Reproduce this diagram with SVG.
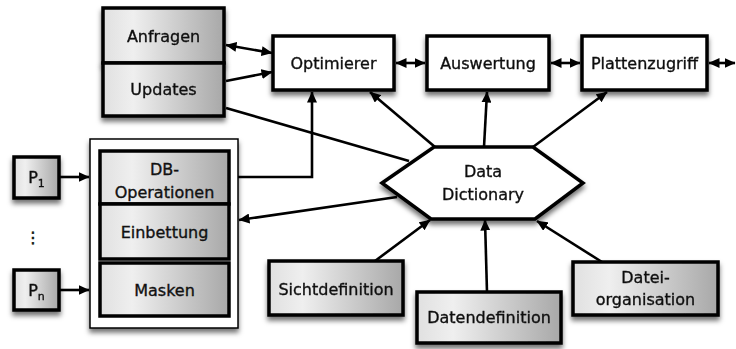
<svg xmlns="http://www.w3.org/2000/svg" width="736" height="349" viewBox="0 0 736 349">
<defs>
<linearGradient id="g" x1="0" y1="0" x2="1" y2="0">
<stop offset="0" stop-color="#e0e0e0"/>
<stop offset="0.25" stop-color="#efefef"/>
<stop offset="1" stop-color="#a8a8a8"/>
</linearGradient>
<filter id="sh" x="-20%" y="-20%" width="140%" height="150%">
<feDropShadow dx="0" dy="4" stdDeviation="2.5" flood-color="#000" flood-opacity="0.55"/>
</filter>
<marker id="ah" viewBox="0 0 11 10" markerWidth="11" markerHeight="10" refX="10.5" refY="5" orient="auto-start-reverse" markerUnits="userSpaceOnUse">
<path d="M0,0 L11,5 L0,10 z" fill="#000"/>
</marker>
</defs>
<style>
.box{fill:url(#g);stroke:#000;stroke-width:3.5}
.wbox{fill:#fff;stroke:#000;stroke-width:3.5}
.panel{fill:#fff;stroke:#000;stroke-width:1.5}
text{font-family:"DejaVu Sans","Liberation Sans",sans-serif;font-size:16px;fill:#111;stroke:#111;stroke-width:0.35;text-anchor:middle}
.c{stroke:#000;stroke-width:2.6;fill:none}
</style>

<g id="connectors">
<line class="c" x1="226" y1="45" x2="272" y2="53" marker-start="url(#ah)" marker-end="url(#ah)"/>
<line class="c" x1="226" y1="81" x2="272" y2="72" marker-end="url(#ah)"/>
<line class="c" x1="226" y1="108" x2="409" y2="161"/>
<polyline class="c" points="238,177 312,177 312,92" marker-end="url(#ah)"/>
<line class="c" x1="397" y1="197" x2="239" y2="220" marker-end="url(#ah)"/>
<line class="c" x1="435" y1="147" x2="370" y2="92" marker-end="url(#ah)"/>
<line class="c" x1="484" y1="147" x2="487" y2="92" marker-end="url(#ah)"/>
<line class="c" x1="533" y1="147" x2="607" y2="92" marker-end="url(#ah)"/>
<line class="c" x1="396" y1="63" x2="425" y2="63" marker-start="url(#ah)" marker-end="url(#ah)"/>
<line class="c" x1="551" y1="63" x2="580" y2="63" marker-start="url(#ah)" marker-end="url(#ah)"/>
<line class="c" x1="709" y1="63" x2="735" y2="63" marker-start="url(#ah)" marker-end="url(#ah)"/>
<line class="c" x1="375" y1="261" x2="430" y2="220" marker-end="url(#ah)"/>
<line class="c" x1="487" y1="292" x2="485" y2="220" marker-end="url(#ah)"/>
<line class="c" x1="602" y1="262" x2="537" y2="221" marker-end="url(#ah)"/>
<line class="c" x1="60" y1="177" x2="89" y2="177" marker-end="url(#ah)"/>
<line class="c" x1="60" y1="290" x2="89" y2="290" marker-end="url(#ah)"/>
</g>

<g id="anfragen" filter="url(#sh)">
<rect class="box" x="103" y="8" width="121" height="55"/>
<text x="163.5" y="42">Anfragen</text>
</g>
<g id="updates" filter="url(#sh)">
<rect class="box" x="103" y="63" width="121" height="53"/>
<text x="163.5" y="95">Updates</text>
</g>

<g id="optimierer" filter="url(#sh)">
<rect class="wbox" x="273" y="36" width="121" height="54"/>
<text x="333.5" y="69">Optimierer</text>
</g>
<g id="auswertung" filter="url(#sh)">
<rect class="wbox" x="427" y="36" width="122" height="54"/>
<text x="488" y="69">Auswertung</text>
</g>
<g id="plattenzugriff" filter="url(#sh)">
<rect class="wbox" x="582" y="36" width="125" height="54"/>
<text x="644.5" y="69">Plattenzugriff</text>
</g>

<g id="panel" filter="url(#sh)">
<rect class="panel" x="90" y="139" width="148" height="189"/>
</g>
<g id="dbops">
<rect class="box" x="100" y="151" width="129" height="53"/>
<text x="164.5" y="175">DB-</text>
<text x="164.5" y="198">Operationen</text>
</g>
<g id="einbettung">
<rect class="box" x="100" y="204" width="129" height="55"/>
<text x="164.5" y="238">Einbettung</text>
</g>
<g id="masken">
<rect class="box" x="100" y="263" width="129" height="53"/>
<text x="164.5" y="296">Masken</text>
</g>

<g id="p1" filter="url(#sh)">
<rect class="box" x="14" y="157" width="45" height="41"/>
<text x="36.5" y="183">P<tspan font-size="11" dy="4">1</tspan></text>
</g>
<g id="dots">
<text x="33" y="243" font-size="42" style="stroke-width:0.5">⋮</text>
</g>
<g id="pn" filter="url(#sh)">
<rect class="box" x="14" y="270" width="45" height="40"/>
<text x="36.5" y="296">P<tspan font-size="11" dy="4">n</tspan></text>
</g>

<g id="datadictionary" filter="url(#sh)">
<polygon class="wbox" points="382,183 434,147 533,147 583,183 535,219 431,219"/>
<text x="483" y="177">Data</text>
<text x="483" y="200">Dictionary</text>
</g>

<g id="sichtdefinition" filter="url(#sh)">
<rect class="box" x="269" y="261" width="134" height="54"/>
<text x="336" y="295">Sichtdefinition</text>
</g>
<g id="datendefinition" filter="url(#sh)">
<rect class="box" x="417" y="292" width="144" height="51"/>
<text x="489" y="323">Datendefinition</text>
</g>
<g id="dateiorganisation" filter="url(#sh)">
<rect class="box" x="573" y="262" width="145" height="53"/>
<text x="645.5" y="283">Datei-</text>
<text x="645.5" y="305">organisation</text>
</g>
</svg>
